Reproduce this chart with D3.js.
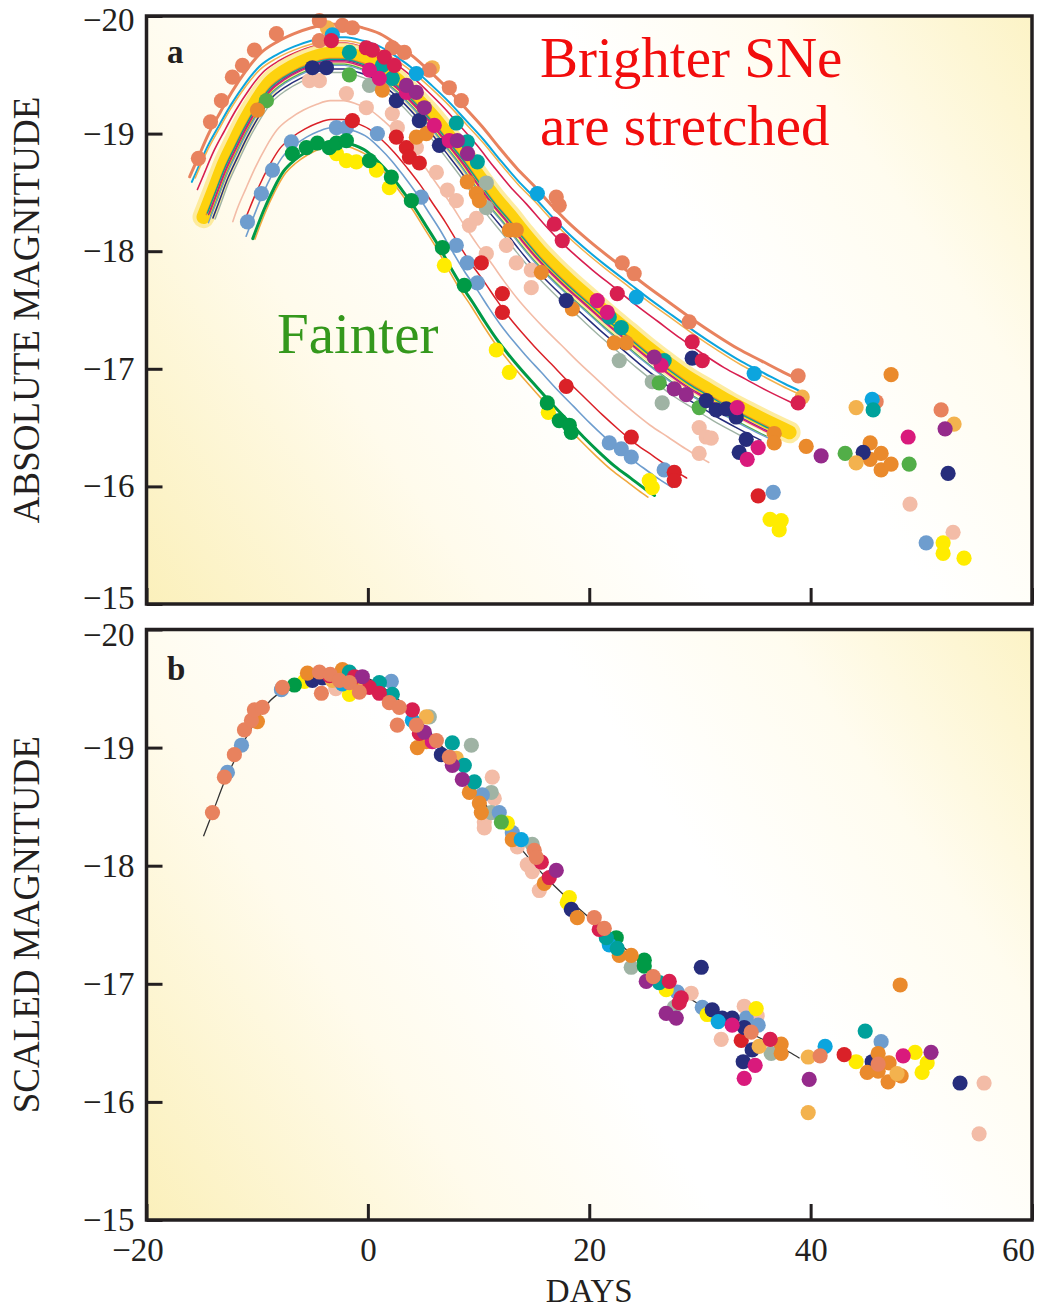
<!DOCTYPE html>
<html>
<head>
<meta charset="utf-8">
<script src="https://cdn.jsdelivr.net/npm/d3@7"></script>
<style>
  html, body { margin: 0; padding: 0; background: #fff; }
  svg { display: block; }
</style>
</head>
<body>
<svg id="chart" width="1038" height="1309"></svg>
<script>
// ---- template light curve (black line of panel b) ----
const templateDay = [-14.85,-13.86,-12.96,-12.05,-11.15,-9.97,-8.89,-7.54,-6.18,-4.83,-3.48,-2.12,-0.77,0.59,1.94,3.30,4.65,6.00,7.36,8.71,10.07,11.42,12.78,14.13,15.49,16.84,18.19,20.0,21.8,23.6,25.4,27.2,29.0,30.8,32.6,34.4,36.3,38.1,39.0];
const templateMag = [-18.25,-18.49,-18.71,-18.89,-19.06,-19.25,-19.39,-19.49,-19.56,-19.61,-19.64,-19.64,-19.61,-19.56,-19.47,-19.36,-19.23,-19.09,-18.93,-18.77,-18.59,-18.42,-18.27,-18.11,-17.96,-17.83,-17.71,-17.56,-17.41,-17.27,-17.13,-17.0,-16.88,-16.78,-16.68,-16.59,-16.50,-16.42,-16.37];
const templatePeakDay = -2.8;

// ---- stretched fits drawn in panel a ----
const curveId      = ["salmonFit","cyanFit","lightOrangeFit","crimsonFit","goldFit","orangeFit","tealFit","purpleFit","magentaFit","greenFit","lightBlueFit","navyFit","grayFit","pinkFit","redFit","lightBlueFit2","lightOrangeFit2","darkGreenFit"];
const curveStretch = [1.14, 1.15, 1.15, 1.10, 1.00, 1.00, 1.00, 0.99, 0.99, 0.98, 0.98, 0.97, 0.96, 0.89, 0.85, 0.81, 0.78, 0.79];
const curveOffset  = [-0.29,-0.18,-0.15,-0.13,-0.04, 0.00, 0.01, 0.02, 0.03, 0.05, 0.06, 0.09, 0.12, 0.36, 0.52, 0.59, 0.74, 0.71];
const curveFrom    = [-16.1,-15.9,-15.6,-15.4,-14.85,-14.6,-14.5,-14.4,-14.3,-14.2,-14.4,-14.0,-13.8,-12.2,-11.2,-11.0,-10.2,-10.4];
const curveTo      = [38.8, 39.0, 39.2, 39.0, 38.1, 37.0, 37.3, 36.8, 37.0, 36.0, 36.2, 35.5, 35.0, 30.8, 28.8, 27.5, 25.3, 25.9];

// ---- panel a measurements [day, absolute magnitude] ----
const aSalmon = [[-15.31,-18.79],[-14.22,-19.10],[-13.23,-19.28],[-12.24,-19.48],[-11.33,-19.58],[-10.25,-19.71],[-8.26,-19.85],[-4.38,-19.96],[-4.38,-19.79],[-2.30,-19.92],[-1.40,-19.90],[2.21,-19.73],[3.30,-19.69],[5.55,-19.54],[7.36,-19.39],[8.44,-19.28],[17.02,-18.46],[17.29,-18.39],[22.98,-17.90],[24.06,-17.81],[29.03,-17.40],[38.87,-16.94],[45.92,-16.72],[51.79,-16.65]];
const aLightOrange = [[-3.66,-19.90],[5.82,-19.56],[39.24,-16.76],[44.11,-16.67],[44.11,-16.20],[52.96,-16.53]];
const aCyan = [[-3.21,-19.84],[4.38,-19.51],[15.31,-18.49],[24.25,-17.61],[34.90,-16.96],[45.56,-16.74]];
const aCrimson = [[-3.30,-19.79],[-0.14,-19.73],[0.41,-19.71],[1.49,-19.65],[2.39,-19.58],[16.84,-18.23],[17.56,-18.09],[22.53,-17.64],[29.30,-17.23],[30.21,-17.07],[38.87,-16.71]];
const aTeal = [[-1.67,-19.69],[1.31,-19.58],[2.21,-19.47],[7.99,-19.09],[8.98,-18.93],[9.89,-18.76],[21.81,-17.44],[22.89,-17.35],[26.77,-17.07],[45.65,-16.65]];
const aMagenta = [[0.14,-19.54],[1.04,-19.47],[3.48,-19.35],[6.0,-19.07],[7.36,-18.94],[20.72,-17.58],[21.63,-17.48],[26.5,-17.03],[33.37,-16.67],[35.26,-16.33],[34.27,-16.23],[48.81,-16.42]];
const aPurple = [[3.48,-19.41],[4.38,-19.35],[5.1,-19.22],[8.08,-18.94],[9.0,-18.83],[25.87,-17.10],[27.68,-16.83],[28.76,-16.78],[40.95,-16.26],[52.15,-16.49]];
const aNavy = [[-5.01,-19.56],[-3.75,-19.56],[2.57,-19.28],[4.65,-19.11],[6.46,-18.90],[17.92,-17.58],[29.3,-17.09],[30.57,-16.73],[31.47,-16.65],[32.37,-16.66],[33.28,-16.59],[34.18,-16.40],[33.55,-16.29],[44.75,-16.29],[52.42,-16.11]];
const aGreen = [[-9.17,-19.28],[-1.67,-19.50],[26.32,-16.88],[29.93,-16.67],[43.12,-16.28],[48.90,-16.19]];
const aDarkGreen = [[-6.82,-18.83],[-5.55,-18.88],[-4.56,-18.92],[-3.48,-18.88],[-2.84,-18.92],[-1.94,-18.94],[0.14,-18.77],[2.12,-18.63],[3.93,-18.43],[6.73,-18.03],[8.71,-17.71],[16.21,-16.71],[17.29,-16.56],[18.20,-16.52],[18.38,-16.46]];
const aYellow = [[-2.84,-18.83],[-1.94,-18.77],[-1.04,-18.76],[0.77,-18.69],[1.94,-18.54],[6.91,-17.88],[11.60,-17.16],[12.78,-16.97],[16.30,-16.63],[25.42,-16.05],[25.69,-15.99],[36.34,-15.72],[37.34,-15.71],[37.16,-15.63],[51.97,-15.52],[51.97,-15.43],[53.86,-15.39]];
const aLightBlue = [[-10.88,-18.25],[-9.62,-18.49],[-8.62,-18.69],[-6.91,-18.93],[-2.84,-19.05],[-1.94,-19.05],[0.86,-19.00],[4.83,-18.46],[7.99,-18.05],[8.98,-17.90],[9.89,-17.73],[21.81,-16.37],[22.89,-16.32],[23.80,-16.25],[26.77,-16.14],[36.62,-15.95],[50.44,-15.52]];
const aRed = [[-1.40,-19.11],[2.57,-18.97],[3.48,-18.88],[3.75,-18.80],[4.65,-18.75],[10.25,-17.90],[12.15,-17.64],[12.15,-17.48],[17.92,-16.85],[23.80,-16.42],[27.68,-16.12],[27.68,-16.05],[35.26,-15.92]];
const aPink = [[-5.28,-19.45],[-4.38,-19.45],[-1.94,-19.34],[-0.14,-19.22],[2.21,-19.17],[2.66,-19.05],[4.38,-18.88],[6.19,-18.67],[7.18,-18.52],[7.99,-18.43],[9.17,-18.22],[9.80,-18.28],[10.70,-17.98],[12.51,-18.05],[13.41,-17.90],[14.76,-17.84],[14.76,-17.69],[29.93,-16.50],[30.57,-16.42],[31.02,-16.41],[29.93,-16.28],[48.98,-15.85],[52.87,-15.61]];
const aGray = [[0.14,-19.41],[10.70,-18.58],[10.70,-18.37],[22.71,-17.07],[25.69,-16.89],[26.59,-16.71]];
const aOrange = [[-9.98,-19.20],[1.31,-19.37],[4.38,-18.97],[5.28,-19.00],[8.98,-18.59],[9.80,-18.49],[10.07,-18.43],[12.78,-18.18],[13.41,-18.18],[15.67,-17.82],[18.47,-17.51],[22.26,-17.22],[23.34,-17.22],[36.71,-16.45],[36.71,-16.37],[39.60,-16.34],[47.27,-16.95],[45.38,-16.37],[46.37,-16.28],[45.38,-16.23],[46.37,-16.14],[47.27,-16.19]];

// ---- panel b measurements [day, scaled magnitude] ----
const bSalmon = [[-14.04,-18.45],[-12.96,-18.75],[-12.06,-18.94],[-11.15,-19.15],[-10.52,-19.23],[-10.25,-19.32],[-9.53,-19.34],[-7.72,-19.51],[-4.38,-19.64],[-4.20,-19.46],[-3.4,-19.62],[-2.57,-19.57],[-1.67,-19.55],[-0.77,-19.47],[1.94,-19.38],[2.84,-19.34],[2.66,-19.19],[4.38,-19.19],[6.19,-19.06],[7.36,-18.92],[15.03,-18.13],[15.22,-18.07],[20.45,-17.56],[21.36,-17.47],[25.78,-17.06],[34.63,-16.59],[40.86,-16.39],[46.10,-16.32]];
const bLightBlue = [[-12.69,-18.79],[-11.42,-19.02],[-7.81,-19.49],[2.12,-19.56],[10.34,-18.60],[11.87,-18.45],[13.05,-18.28],[27.95,-16.93],[30.21,-16.80],[34.18,-16.71],[35.26,-16.65],[46.37,-16.51]];
const bOrange = [[-9.98,-19.22],[-5.46,-19.63],[-2.30,-19.66],[-0.9,-19.55],[4.47,-19.00],[5.28,-19.05],[9.17,-18.62],[10.07,-18.53],[10.25,-18.45],[13.05,-18.22],[15.94,-17.85],[18.92,-17.56],[22.71,-17.24],[23.79,-17.24],[37.34,-16.49],[37.34,-16.41],[46.10,-16.41],[47.09,-16.33],[45.11,-16.25],[46.10,-16.26],[47.00,-16.17],[48.18,-16.22],[48.09,-16.99]];
const bGreen = [[12.06,-18.37]];
const bDarkGreen = [[-6.64,-19.53],[22.44,-17.39],[24.97,-17.20],[24.97,-17.15]];
const bYellow = [[-5.73,-19.56],[-1.67,-19.45],[12.60,-18.36],[18.20,-17.73],[18.01,-17.69],[26.95,-16.95],[30.66,-16.74],[35.08,-16.79],[44.11,-16.34],[49.44,-16.42],[50.53,-16.33],[50.07,-16.25]];
const bNavy = [[-5.01,-19.57],[-4.1,-19.59],[6.64,-18.94],[18.38,-17.63],[30.12,-17.14],[31.11,-16.78],[32.01,-16.71],[32.91,-16.71],[34.00,-16.63],[34.72,-16.44],[33.91,-16.34],[45.56,-16.34],[53.50,-16.16]];
const bCrimson = [[-3.48,-19.61],[-1.2,-19.6],[0.14,-19.51],[1.04,-19.46],[4.02,-19.32],[4.65,-19.12],[15.67,-18.03],[16.39,-17.90],[20.90,-17.46],[27.23,-17.02],[28.31,-16.88],[28.13,-16.84],[36.35,-16.53]];
const bRed = [[33.73,-16.52],[43.03,-16.40]];
const bTeal = [[-1.67,-19.64],[1.04,-19.55],[2.21,-19.45],[7.63,-19.04],[8.71,-18.85],[9.62,-18.71],[21.54,-17.39],[22.53,-17.30],[26.32,-17.01],[44.93,-16.60]];
const bCyan = [[-2.3,-19.54],[4.02,-19.23],[13.86,-18.22],[21.81,-17.33],[31.65,-16.68],[41.31,-16.47]];
const bMagenta = [[5.82,-19.05],[32.91,-16.65],[34.99,-16.31],[34.00,-16.20],[48.36,-16.39]];
const bPurple = [[-0.50,-19.60],[5.10,-19.13],[7.63,-18.85],[8.53,-18.73],[17.02,-17.96],[25.15,-17.02],[26.95,-16.75],[27.86,-16.71],[39.87,-16.19],[50.88,-16.42]];
const bGray = [[5.55,-19.26],[9.35,-19.02],[11.15,-18.62],[11.15,-18.45],[14.85,-18.18],[23.79,-17.14],[27.68,-16.80],[36.44,-16.41]];
const bLightOrange = [[-3.21,-19.57],[-0.2,-19.52],[5.28,-19.26],[7.99,-18.91],[35.35,-16.47],[39.78,-16.38],[39.78,-15.91],[47.81,-16.24]];
const bPink = [[-2.9,-19.5],[11.24,-18.75],[11.42,-18.57],[10.52,-18.37],[10.52,-18.32],[13.50,-18.16],[14.40,-18.01],[14.85,-17.95],[15.49,-17.79],[29.21,-16.92],[34.00,-16.81],[35.17,-16.73],[31.92,-16.53],[55.67,-16.16],[55.22,-15.73]];

const xTicks = [-20, 0, 20, 40, 60];
const yTicks = [-20, -19, -18, -17, -16, -15];

// ---- styles ----
const dotColor = {
    salmon: "#e8825e", orange: "#ea8a2c", lightOrange: "#f3b24e", cyan: "#0ca5de",
    teal: "#00a19b", crimson: "#d81f50", red: "#da2128", magenta: "#d91a7c",
    purple: "#952a8b", navy: "#262d7c", green: "#52ae48", darkGreen: "#009a46",
    gray: "#9fb3a4", lightBlue: "#6e9dce", pink: "#f3bca7", yellow: "#ffec00"
};
const curveStyle = {
    salmonFit: ["#e8825e", 3], cyanFit: ["#0ca5de", 2], lightOrangeFit: ["#f3b24e", 1.5],
    crimsonFit: ["#d81f50", 1.6], goldFit: ["#fdd20e", 14], orangeFit: ["#ea8a2c", 1.3],
    tealFit: ["#00a19b", 1.3], purpleFit: ["#952a8b", 1.3], magentaFit: ["#d91a7c", 1.3],
    greenFit: ["#52ae48", 1.3], lightBlueFit: ["#6e9dce", 1.3], navyFit: ["#262d7c", 1.5],
    grayFit: ["#9fb3a4", 1.4], pinkFit: ["#f3bca7", 1.6], redFit: ["#da2128", 1.5],
    lightBlueFit2: ["#6e9dce", 1.6], lightOrangeFit2: ["#f0a83e", 1.6], darkGreenFit: ["#009a46", 3]
};
const FONT = "'Liberation Serif', 'Times New Roman', serif";
const INK = "#231f20";

const svg = d3.select("#chart");
const defs = svg.append("defs");

const plotL = 146.5, plotR = 1032;
const x = d3.scaleLinear().domain([-20, 60]).range([plotL, plotR]);

const panels = [
    {id: "a", top: 16, bottom: 604, title: "ABSOLUTE MAGNITUDE", letter: "a", labels: false, nudge: {"-20": 4, "-15": -6}},
    {id: "b", top: 629.5, bottom: 1220, title: "SCALED MAGNITUDE", letter: "b", labels: true, nudge: {"-20": 5}}
];
panels.forEach(p => { p.y = d3.scaleLinear().domain([-20, -15]).range([p.top, p.bottom]); });

// backgrounds: pale yellow in lower-left / upper-right corners
panels.forEach(p => {
    const grad = defs.append("linearGradient")
        .attr("id", "bg-" + p.id)
        .attr("gradientUnits", "userSpaceOnUse")
        .attr("x1", plotL).attr("y1", p.bottom)
        .attr("x2", plotR).attr("y2", p.top);
    [[0, "#fbf0bb"], [0.27, "#fffbec"], [0.45, "#ffffff"], [0.62, "#ffffff"], [0.8, "#fffcef"], [1, "#fcf3c6"]]
        .forEach(([o, c]) => grad.append("stop").attr("offset", o).attr("stop-color", c));
    svg.append("rect")
        .attr("x", plotL).attr("y", p.top)
        .attr("width", plotR - plotL).attr("height", p.bottom - p.top)
        .attr("fill", `url(#bg-${p.id})`);
});

const tpl = d3.scaleLinear().domain(templateDay).range(templateMag);

// ---------- panel a : stretched fits ----------
const pa = panels[0];
const lineA = d3.line().x(d => x(d[0])).y(d => pa.y(d[1])).curve(d3.curveMonotoneX);
const gCurves = svg.append("g").attr("fill", "none").attr("stroke-linecap", "round");

curveId.forEach((id, i) => {
    const s = curveStretch[i], dm = curveOffset[i];
    const lo = d3.min(templateDay), hi = d3.max(templateDay);
    const u0 = Math.max(lo, templatePeakDay + (curveFrom[i] - templatePeakDay) / s);
    const u1 = Math.min(hi, templatePeakDay + (curveTo[i] - templatePeakDay) / s);
    const us = [u0, ...templateDay.filter(d => d > u0 + 0.2 && d < u1 - 0.2), u1];
    const pts = us.map(u => [templatePeakDay + s * (u - templatePeakDay), tpl(u) + dm]);
    const [col, w] = curveStyle[id];
    if (id === "goldFit") {
        gCurves.append("path").attr("d", lineA(pts))
            .attr("stroke", "#fde78a").attr("stroke-width", 22).attr("stroke-opacity", 0.8);
    }
    gCurves.append("path").attr("d", lineA(pts))
        .attr("stroke", col).attr("stroke-width", w);
});

// ---------- dots ----------
const R = 7.6;
const drawDots = (p, groups) => {
    const g = svg.append("g");
    groups.forEach(([name, arr]) => {
        g.selectAll(null).data(arr).join("circle")
            .attr("cx", d => x(d[0]))
            .attr("cy", d => p.y(d[1]))
            .attr("r", R)
            .attr("fill", dotColor[name]);
    });
};

drawDots(pa, [
    ["pink", aPink], ["gray", aGray], ["lightBlue", aLightBlue], ["yellow", aYellow],
    ["red", aRed], ["darkGreen", aDarkGreen], ["green", aGreen], ["orange", aOrange],
    ["navy", aNavy], ["lightOrange", aLightOrange], ["salmon", aSalmon], ["cyan", aCyan],
    ["teal", aTeal], ["crimson", aCrimson], ["magenta", aMagenta], ["purple", aPurple]
]);

// ---------- panel b : template + scaled data ----------
const pb = panels[1];
const lineB = d3.line().x(d => x(d[0])).y(d => pb.y(d[1])).curve(d3.curveMonotoneX);
svg.append("path")
    .attr("d", lineB(templateDay.map((d, i) => [d, templateMag[i]])))
    .attr("fill", "none").attr("stroke", "#333").attr("stroke-width", 1.3);

drawDots(pb, [
    ["pink", bPink], ["gray", bGray], ["lightBlue", bLightBlue], ["yellow", bYellow],
    ["red", bRed], ["darkGreen", bDarkGreen], ["green", bGreen], ["navy", bNavy],
    ["orange", bOrange], ["lightOrange", bLightOrange], ["cyan", bCyan], ["teal", bTeal],
    ["crimson", bCrimson], ["magenta", bMagenta], ["purple", bPurple], ["salmon", bSalmon]
]);

// ---------- axes, frames, labels ----------
const xNudge = {"-20": -9, "60": -14};
panels.forEach(p => {
    const yAxis = d3.axisLeft(p.y).tickValues(yTicks).tickSize(-16).tickPadding(12)
        .tickFormat(d3.format("d"));
    const gy = svg.append("g").attr("transform", `translate(${plotL},0)`).call(yAxis);
    gy.selectAll(".tick text").attr("y", d => p.nudge[d] || 0);

    const xAxis = d3.axisBottom(x).tickValues(xTicks).tickSize(-16).tickPadding(18)
        .tickFormat(p.labels ? d3.format("d") : () => "");
    const gx = svg.append("g").attr("transform", `translate(0,${p.bottom})`).call(xAxis);
    gx.selectAll(".tick text").attr("dx", d => xNudge[d] || 0);

    [gy, gx].forEach(g => {
        g.select(".domain").remove();
        g.selectAll(".tick line").attr("stroke", INK).attr("stroke-width", 3);
        g.selectAll(".tick text")
            .attr("font-family", FONT).attr("font-size", 33).attr("fill", INK);
    });

    svg.append("rect")
        .attr("x", plotL).attr("y", p.top)
        .attr("width", plotR - plotL).attr("height", p.bottom - p.top)
        .attr("fill", "none").attr("stroke", INK).attr("stroke-width", 3.5);

    svg.append("text")
        .attr("transform", `translate(39,${(p.top + p.bottom) / 2}) rotate(-90)`)
        .attr("text-anchor", "middle")
        .attr("font-family", FONT).attr("font-size", 37).attr("fill", INK)
        .text(p.title);

    svg.append("text")
        .attr("x", 167).attr("y", p.top + (p.id === "a" ? 47 : 50))
        .attr("font-family", FONT).attr("font-size", 33).attr("font-weight", "bold")
        .attr("fill", INK)
        .text(p.letter);
});

svg.append("text")
    .attr("x", (plotL + plotR) / 2).attr("y", 1302)
    .attr("text-anchor", "middle")
    .attr("font-family", FONT).attr("font-size", 33).attr("fill", INK)
    .text("DAYS");

// annotations
const note = svg.append("g").attr("font-family", FONT).attr("font-size", 57);
note.append("text").attr("x", 540).attr("y", 77).attr("fill", "#f20d0d").text("Brighter SNe");
note.append("text").attr("x", 540).attr("y", 145).attr("fill", "#f20d0d").text("are stretched");
note.append("text").attr("x", 277).attr("y", 353).attr("fill", "#34981c").text("Fainter");
</script>
</body>
</html>
